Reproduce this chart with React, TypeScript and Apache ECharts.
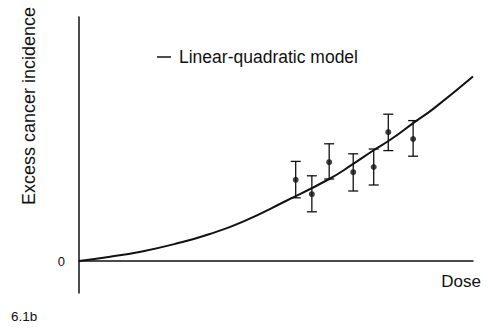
import React, { useEffect, useRef } from "react";
import * as echarts from "echarts";

// Linear-quadratic model curve: [dose, excess incidence]
const modelDose = [0, 0.75, 1.6, 2.45, 3.3, 4.15, 5.25, 6.35, 6.95, 7.45, 7.9, 8.5, 9.0, 10];
const modelIncidence = [0, 0.1, 0.24, 0.43, 0.67, 0.98, 1.5, 2.05, 2.42, 2.75, 3.03, 3.46, 3.81, 4.61];

// Observed points with error bars
const obsDose = [5.5, 5.91, 6.35, 6.96, 7.48, 7.85, 8.48];
const obsValue = [2.03, 1.67, 2.47, 2.22, 2.35, 3.22, 3.05];
const obsLow = [1.58, 1.23, 2.05, 1.75, 1.9, 2.76, 2.62];
const obsHigh = [2.49, 2.13, 2.93, 2.68, 2.8, 3.67, 3.51];

const modelName = "Linear-quadratic model";
const yTitle = "Excess cancer incidence";
const xTitle = "Dose";
const figLabel = "6.1b";

const FONT = "Liberation Sans, Arial, sans-serif";
const INK = "#111";

export default function App() {
  const ref = useRef<HTMLDivElement>(null);
  useEffect(() => {
    if (!ref.current) return;
    const chart = echarts.init(ref.current, null, { renderer: "svg" });
    const modelData = modelDose.map((d, i) => [d, modelIncidence[i]]);
    const pointData = obsDose.map((d, i) => [d, obsValue[i]]);
    const errData = obsDose.map((d, i) => [d, obsLow[i], obsHigh[i]]);
    chart.setOption({
      animation: false,
      backgroundColor: "#fff",
      grid: { left: 79, right: 15, top: 17, bottom: 38 },
      legend: {
        data: [{ name: modelName, icon: "rect" }],
        left: 157,
        top: 48,
        padding: 0,
        itemWidth: 14,
        itemHeight: 1.5,
        textStyle: { fontFamily: FONT, fontSize: 17.5, color: INK, padding: [0, 0, 0, 3] },
        selectedMode: false,
      },
      xAxis: {
        type: "value",
        min: 0,
        max: 10,
        axisLine: { onZero: true, lineStyle: { color: INK, width: 1.5 } },
        axisTick: { show: false },
        axisLabel: { show: false },
        splitLine: { show: false },
      },
      yAxis: {
        type: "value",
        min: -0.8,
        max: 6.1,
        interval: 0.8,
        axisLine: { show: true, onZero: false, lineStyle: { color: INK, width: 1.5 } },
        axisTick: { show: false },
        splitLine: { show: false },
        axisLabel: {
          margin: 14,
          fontFamily: FONT,
          fontSize: 13,
          color: INK,
          showMinLabel: false,
          showMaxLabel: false,
          formatter: (v: number) => (Math.abs(v) < 1e-6 ? "0" : ""),
        },
      },
      graphic: [
        {
          type: "text",
          x: 29,
          y: 106,
          rotation: Math.PI / 2,
          style: {
            text: yTitle,
            fontFamily: FONT,
            fontSize: 18,
            fill: INK,
            align: "center",
            verticalAlign: "middle",
          },
        },
        {
          type: "text",
          x: 481,
          y: 281,
          style: {
            text: xTitle,
            fontFamily: FONT,
            fontSize: 17,
            fill: INK,
            align: "right",
            verticalAlign: "middle",
          },
        },
        {
          type: "text",
          x: 11,
          y: 316,
          style: {
            text: figLabel,
            fontFamily: FONT,
            fontSize: 13.5,
            fill: INK,
            align: "left",
            verticalAlign: "middle",
          },
        },
      ],
      series: [
        {
          name: modelName,
          type: "line",
          data: modelData,
          smooth: 0.5,
          symbol: "none",
          lineStyle: { color: INK, width: 2 },
          itemStyle: { color: INK },
          z: 3,
        },
        {
          name: "obs",
          type: "scatter",
          data: pointData,
          symbol: "circle",
          symbolSize: 6,
          itemStyle: { color: INK },
          z: 4,
        },
        {
          name: "err",
          type: "custom",
          data: errData,
          encode: { x: 0, y: [1, 2] },
          z: 3,
          renderItem: (params: any, api: any) => {
            const x = api.value(0);
            const lo = api.coord([x, api.value(1)]);
            const hi = api.coord([x, api.value(2)]);
            const hw = 5;
            const style = { stroke: INK, lineWidth: 1.3 };
            return {
              type: "group",
              children: [
                { type: "line", shape: { x1: lo[0], y1: lo[1], x2: hi[0], y2: hi[1] }, style },
                { type: "line", shape: { x1: hi[0] - hw, y1: hi[1], x2: hi[0] + hw, y2: hi[1] }, style },
                { type: "line", shape: { x1: lo[0] - hw, y1: lo[1], x2: lo[0] + hw, y2: lo[1] }, style },
              ],
            };
          },
        },
      ],
    });
    return () => chart.dispose();
  }, []);
  return (
    <div
      ref={ref}
      style={{ position: "absolute", left: 0, top: 0, width: 488, height: 331, background: "#fff" }}
    />
  );
}
